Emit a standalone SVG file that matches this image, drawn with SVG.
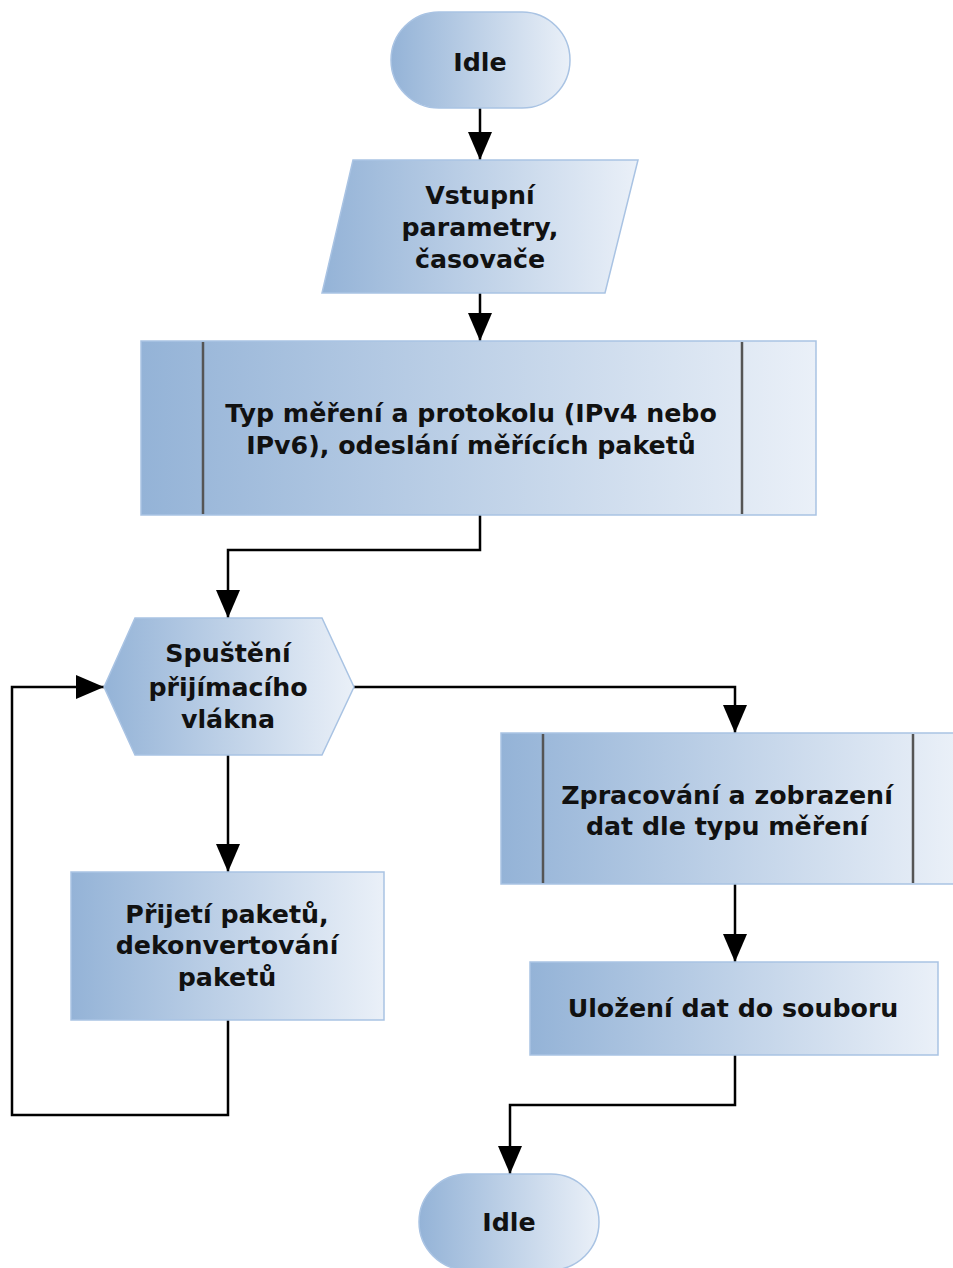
<svg xmlns="http://www.w3.org/2000/svg" width="953" height="1268" viewBox="0 0 953 1268">
<defs>
<linearGradient id="g" x1="0" y1="0" x2="1" y2="0">
<stop offset="0" stop-color="#94b3d7"/>
<stop offset="1" stop-color="#eaf0f8"/>
</linearGradient>
<marker id="ah" markerWidth="28" markerHeight="24" refX="28" refY="12" viewBox="0 0 28 24" markerUnits="userSpaceOnUse" orient="auto">
<path d="M0,0 L28,12 L0,24 Z" fill="#000"/>
</marker>
</defs>
<style>
.s{fill:url(#g);stroke:#a9c3e3;stroke-width:1.5}
.d{stroke:#555;stroke-width:2.5}
.t{font-family:"DejaVu Sans",Verdana,sans-serif;font-weight:bold;font-size:25.3px;fill:#111;text-anchor:middle}
.c{fill:none;stroke:#000;stroke-width:2.5}
</style>
<g id="connectors">
<path class="c" d="M480,108 V160" marker-end="url(#ah)"/>
<path class="c" d="M480,293 V341" marker-end="url(#ah)"/>
<path class="c" d="M480,515 V550 H228 V618" marker-end="url(#ah)"/>
<path class="c" d="M228,755 V872" marker-end="url(#ah)"/>
<path class="c" d="M228,1020 V1115 H12 V687 H104" marker-end="url(#ah)"/>
<path class="c" d="M354,687 H735 V733" marker-end="url(#ah)"/>
<path class="c" d="M735,884 V962" marker-end="url(#ah)"/>
<path class="c" d="M735,1055 V1105 H510 V1174" marker-end="url(#ah)"/>
</g>
<g id="idle1">
<rect class="s" x="391" y="12" width="179" height="96" rx="48" ry="48"/>
<text class="t" x="480" y="71">Idle</text>
</g>
<g id="input">
<polygon class="s" points="353,160 638,160 605,293 322,293"/>
<text class="t" x="480" y="204">Vstupní</text>
<text class="t" x="480" y="236">parametry,</text>
<text class="t" x="480" y="268">časovače</text>
</g>
<g id="measure">
<rect class="s" x="141" y="341" width="675" height="174"/>
<line class="d" x1="203" y1="342" x2="203" y2="514"/>
<line class="d" x1="742" y1="342" x2="742" y2="514"/>
<text class="t" x="471" y="422">Typ měření a protokolu (IPv4 nebo</text>
<text class="t" x="471" y="454">IPv6), odeslání měřících paketů</text>
</g>
<g id="thread">
<polygon class="s" points="104,687 135,618 322,618 354,687 322,755 135,755"/>
<text class="t" x="228" y="662">Spuštění</text>
<text class="t" x="228" y="696">přijímacího</text>
<text class="t" x="228" y="728">vlákna</text>
</g>
<g id="receive">
<rect class="s" x="71" y="872" width="313" height="148"/>
<text class="t" x="227" y="923">Přijetí paketů,</text>
<text class="t" x="227" y="954">dekonvertování</text>
<text class="t" x="227" y="986">paketů</text>
</g>
<g id="process">
<rect class="s" x="501" y="733" width="454" height="151"/>
<line class="d" x1="543" y1="734" x2="543" y2="883"/>
<line class="d" x1="913" y1="734" x2="913" y2="883"/>
<text class="t" x="727" y="804">Zpracování a zobrazení</text>
<text class="t" x="727" y="835">dat dle typu měření</text>
</g>
<g id="save">
<rect class="s" x="530" y="962" width="408" height="93"/>
<text class="t" x="733" y="1017">Uložení dat do souboru</text>
</g>
<g id="idle2">
<rect class="s" x="419" y="1174" width="180" height="96" rx="48" ry="48"/>
<text class="t" x="509" y="1231">Idle</text>
</g>
</svg>
